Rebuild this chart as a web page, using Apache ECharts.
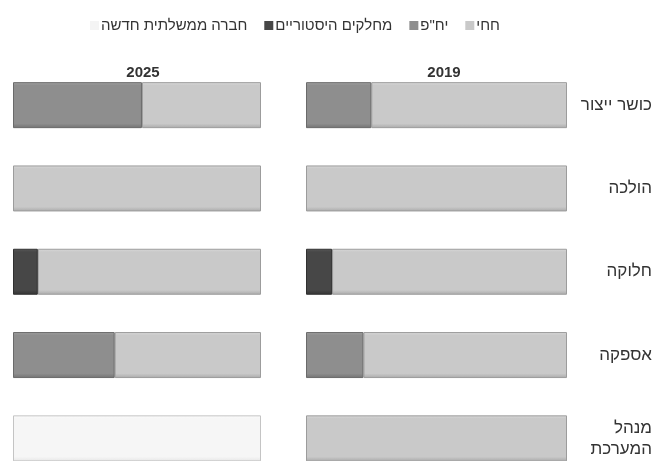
<!DOCTYPE html>
<html>
<head>
<meta charset="utf-8">
<script src="https://cdn.jsdelivr.net/npm/echarts@6/dist/echarts.min.js"></script>
<style>
  html, body { margin: 0; padding: 0; background: #fff; overflow: hidden; }
  /* the bottom row is cut by the frame, so the chart is taller than the window */
  #chart { width: 660px; height: 480px; }
</style>
</head>
<body>
<div id="chart"></div>
<script>
// categories, top to bottom
const categories = ['כושר ייצור', 'הולכה', 'חלוקה', 'אספקה', 'מנהל\nהמערכת']
const years = ['2019', '2025']
const seriesNames = ['חחי', 'יח"פ', 'מחלקים היסטוריים', 'חברה ממשלתית חדשה']

// shares in percent, 2019
const chachi2019 = [75, 100, 90, 78, 100]
const yhp2019 = [25, 0, 0, 22, 0]
const dist2019 = [0, 0, 10, 0, 0]
const newco2019 = [0, 0, 0, 0, 0]

// shares in percent, 2025
const chachi2025 = [48, 100, 90, 59, 0]
const yhp2025 = [52, 0, 0, 41, 0]
const dist2025 = [0, 0, 10, 0, 0]
const newco2025 = [0, 0, 0, 0, 100]

const font = 'Liberation Sans, DejaVu Sans, sans-serif'

// bevel-like fill: light top edge, darker bottom edge
function bevel(top, base, bottom) {
  return new echarts.graphic.LinearGradient(0, 0, 0, 1, [
    { offset: 0, color: top },
    { offset: 0.07, color: base },
    { offset: 0.9, color: base },
    { offset: 1, color: bottom }
  ])
}
const fills = [
  { color: bevel('#dadada', '#c9c9c9', '#a9a9a9'), border: '#9c9c9c', legend: '#c9c9c9' },
  { color: bevel('#a2a2a2', '#8e8e8e', '#727272'), border: '#6a6a6a', legend: '#8e8e8e' },
  { color: bevel('#5a5a5a', '#474747', '#333333'), border: '#303030', legend: '#474747' },
  { color: bevel('#fbfbfb', '#f6f6f6', '#e6e6e6'), border: '#c4c4c4', legend: '#f4f4f4' }
]

const chart = echarts.init(document.getElementById('chart'))

const grids = [
  { left: 306, right: 93, top: 63.5, bottom: 0 },
  { left: 13, right: 399, top: 63.5, bottom: 0 }
]

const data = [
  [chachi2019, yhp2019, dist2019, newco2019],
  [chachi2025, yhp2025, dist2025, newco2025]
]

const series = []
data.forEach((yearData, g) => {
  yearData.forEach((values, i) => {
    series.push({
      name: seriesNames[i],
      type: 'bar',
      stack: 'y' + g,
      xAxisIndex: g,
      yAxisIndex: g,
      barWidth: 46,
      itemStyle: {
        color: fills[i].color,
        borderColor: fills[i].border,
        borderWidth: 1
      },
      // empty segments are skipped so they leave no border line
      data: values.map(v => (v === 0 ? '-' : v))
    })
  })
})

const option = {
  backgroundColor: '#fff',
  animation: false,
  textStyle: { fontFamily: font },
  title: years.map((y, g) => ({
    text: y,
    left: g === 0 ? 439 : 138,
    top: 60,
    textAlign: 'center',
    textStyle: { fontSize: 15, fontWeight: 'bold', color: '#333', fontFamily: font }
  })),
  legend: {
    left: 85,
    top: 13,
    itemWidth: 9,
    itemHeight: 9,
    itemGap: 17,
    icon: 'rect',
    data: [
      { name: 'חברה ממשלתית חדשה', itemStyle: { color: fills[3].legend, borderWidth: 0 } },
      { name: 'מחלקים היסטוריים', itemStyle: { color: fills[2].legend, borderWidth: 0 } },
      { name: 'יח"פ', itemStyle: { color: fills[1].legend, borderWidth: 0 } },
      { name: 'חחי', itemStyle: { color: fills[0].legend, borderWidth: 0 } }
    ],
    textStyle: { fontSize: 15, color: '#333', fontFamily: font, padding: [0, 0, 0, -3] }
  },
  grid: grids,
  xAxis: grids.map((_, g) => ({
    type: 'value',
    gridIndex: g,
    min: 0,
    max: 100,
    inverse: true,
    show: false
  })),
  yAxis: grids.map((_, g) => ({
    type: 'category',
    gridIndex: g,
    data: categories,
    inverse: true,
    position: 'right',
    axisLine: { show: false },
    axisTick: { show: false },
    splitLine: { show: false },
    axisLabel: {
      show: g === 0,
      align: 'right',
      margin: 85,
      fontSize: 17,
      lineHeight: 21,
      color: '#333',
      fontFamily: font
    }
  })),
  series: series
}

chart.setOption(option)
</script>
</body>
</html>
